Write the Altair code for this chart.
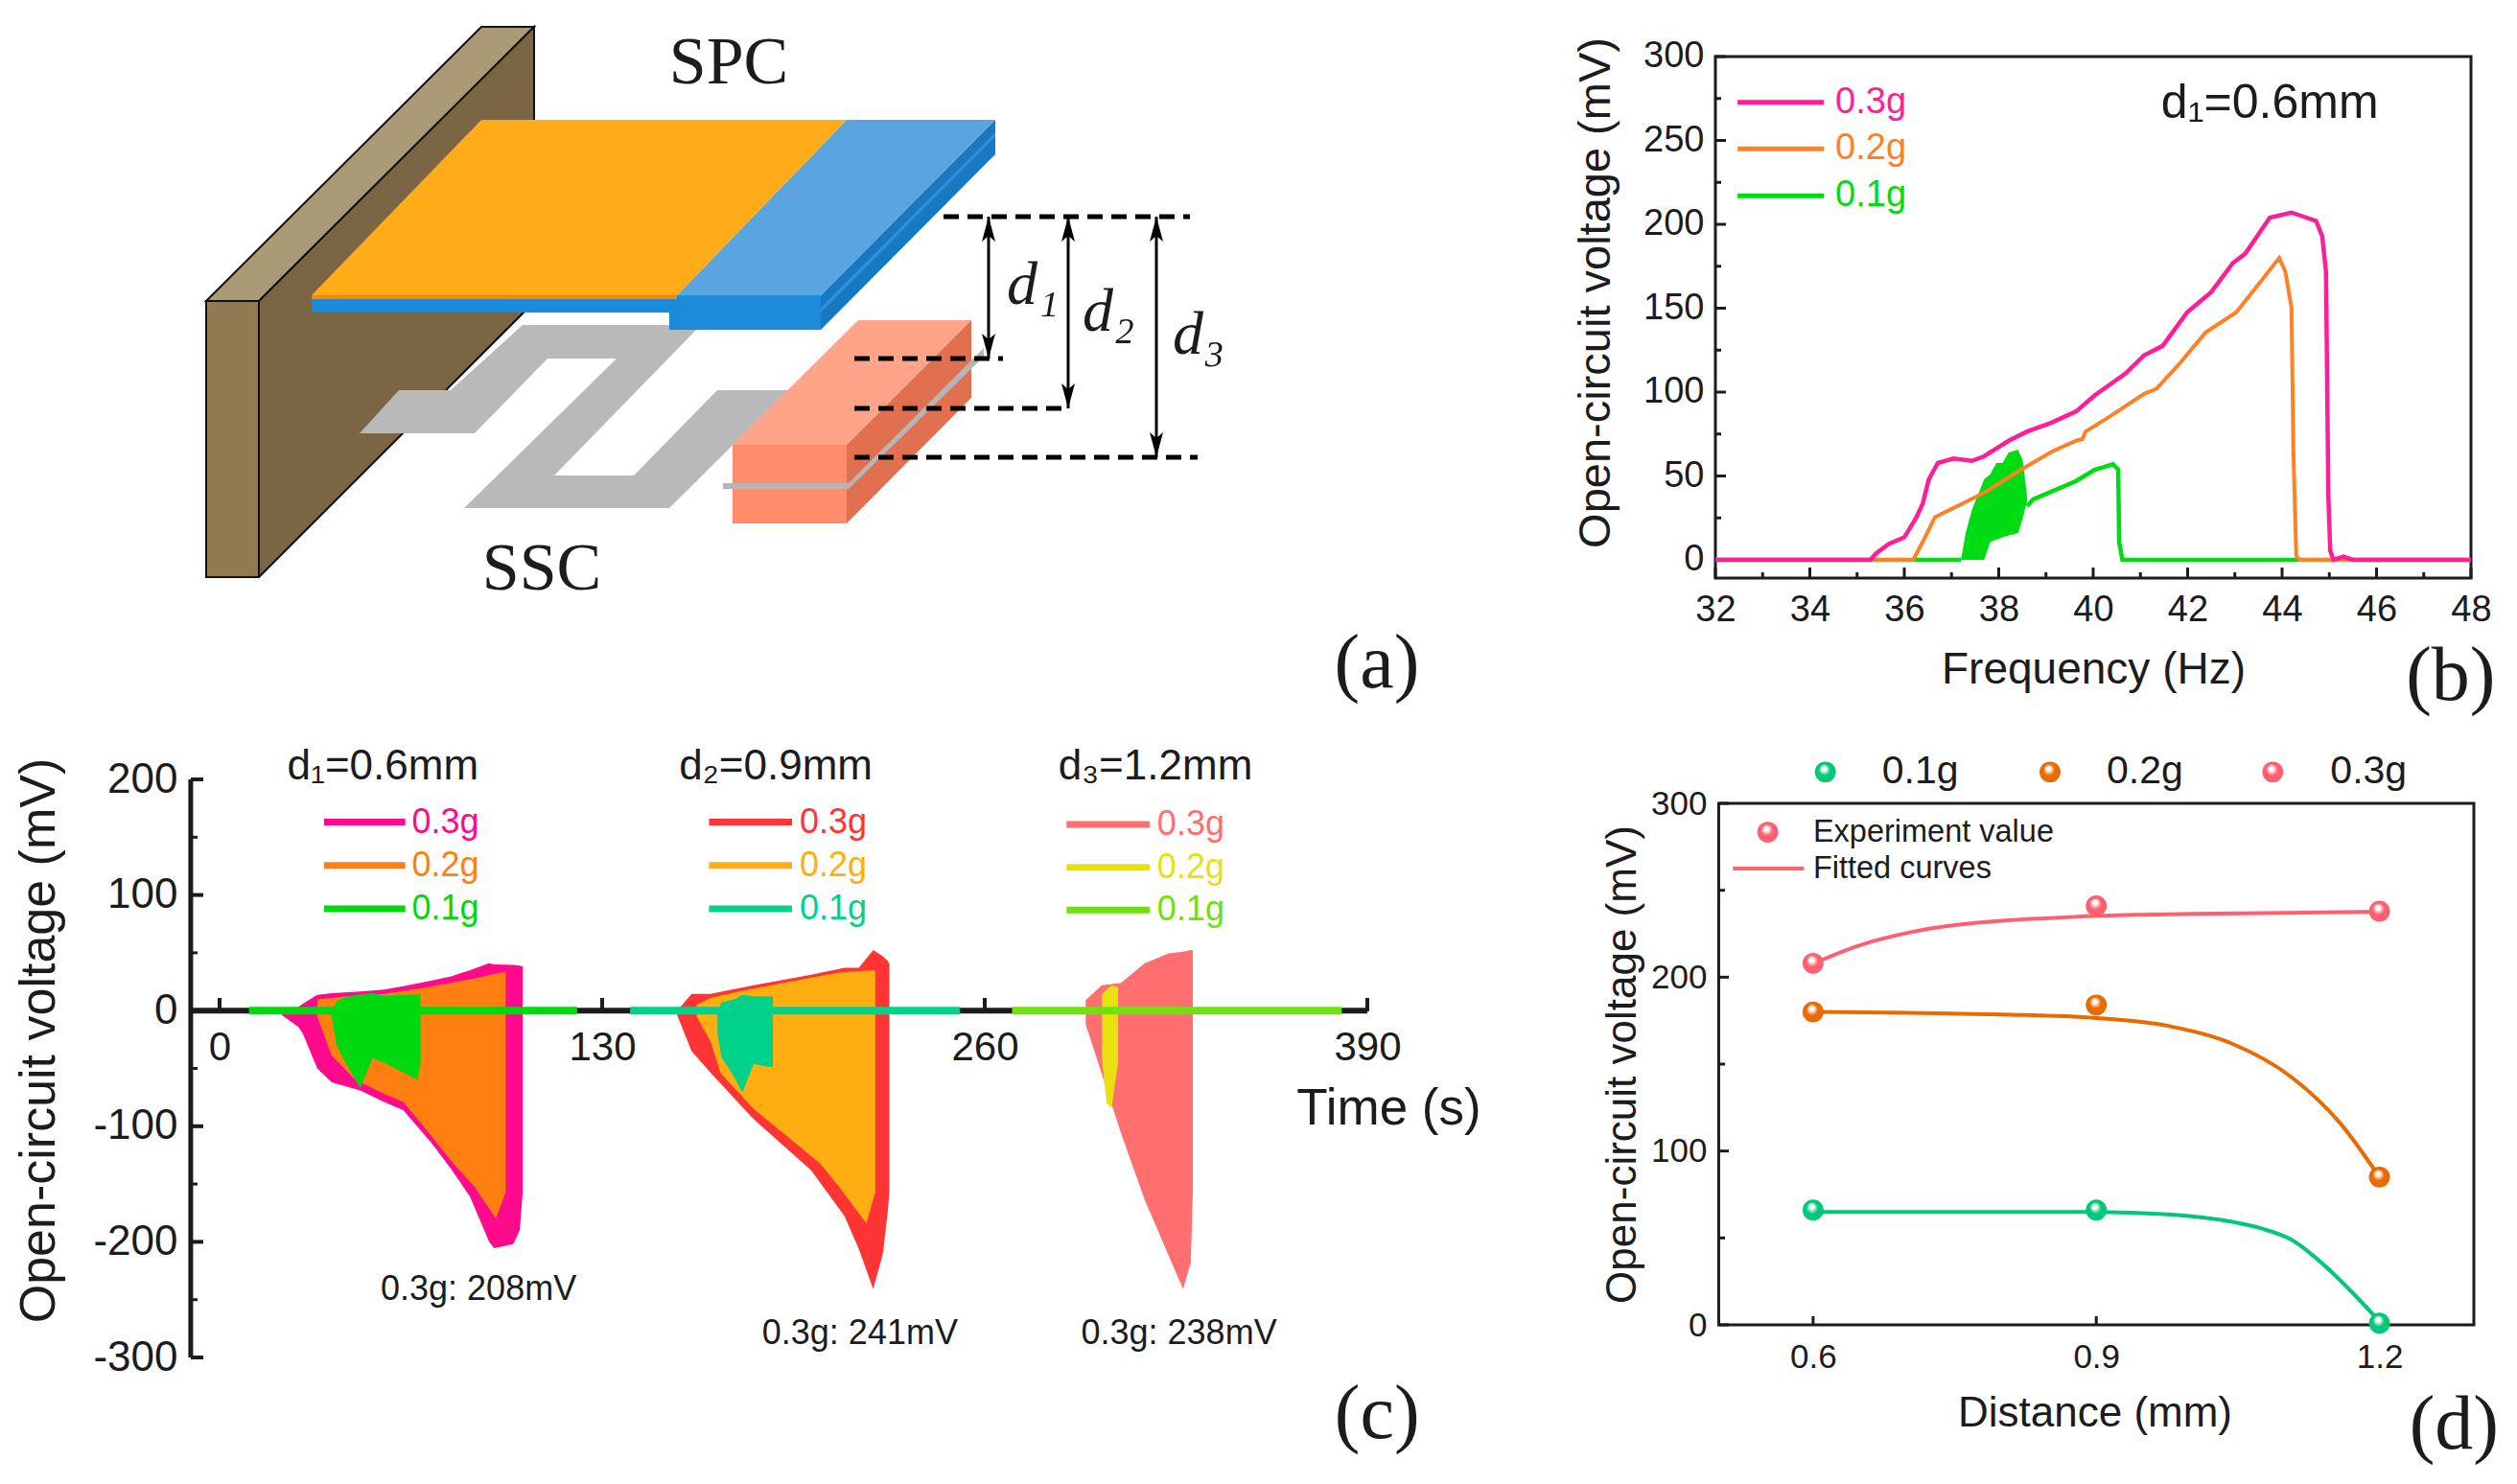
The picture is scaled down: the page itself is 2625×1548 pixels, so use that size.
import altair as alt
import pandas as pd

SANS = "Liberation Sans"
SERIF = "Liberation Serif"
INK = "#1c1c1c"

# ---------- panel (a): schematic outline vertices ----------
GRAY = "#b9b9b9"
SCHEMATIC = [
    ("#ab9a76", [(215, 314), (502, 28), (557, 28), (270, 314)]),
    ("#8f7a52", [(215, 314), (270, 314), (270, 602), (215, 602)]),
    ("#7a6545", [(270, 314), (557, 28), (557, 315), (270, 602)]),
]
PARTS = [
    (GRAY, [(375, 452), (416, 407), (470, 407), (545, 339), (731, 339), (578, 496), (661, 496), (748, 407),
            (822, 407), (698, 530), (484, 530), (643, 374), (571, 374), (495, 452)]),
    ("#1b8ad8", [(325, 308), (698, 308), (698, 326), (325, 326)]),
    ("#1b8ad8", [(698, 308), (856, 308), (856, 344), (698, 344)]),
    ("#1878c0", [(856, 308), (1038, 125), (1038, 161), (856, 344)]),
    ("#2f8fd6", [(856, 321), (1038, 138), (1038, 143), (856, 326)]),
    ("#5aa5e0", [(883, 125), (1038, 125), (856, 308), (706, 308)]),
    ("#f58a00", [(325, 308), (706, 308), (706, 312), (325, 312)]),
    ("#ffac18", [(502, 125), (883, 125), (706, 308), (325, 308)]),
    ("#ff8c6a", [(764, 464), (883, 464), (883, 546), (764, 546)]),
    ("#ffa488", [(764, 464), (895, 334), (1013, 334), (883, 464)]),
    ("#e07050", [(883, 464), (1013, 334), (1013, 415), (883, 546)]),
    ("#b5b5b5", [(754, 504), (885, 504), (1026, 363), (1026, 372), (885, 510), (754, 510)]),
    ("#000000", [(1031, 226), (1038, 252), (1031, 246), (1024, 252)]),
    ("#000000", [(1031, 374), (1038, 348), (1031, 354), (1024, 348)]),
    ("#000000", [(1114, 226), (1121, 252), (1114, 246), (1107, 252)]),
    ("#000000", [(1114, 426), (1121, 400), (1114, 406), (1107, 400)]),
    ("#000000", [(1206, 226), (1213, 252), (1206, 246), (1199, 252)]),
    ("#000000", [(1206, 477), (1213, 451), (1206, 457), (1199, 451)]),
]
DASH_Y = [226, 374, 426, 477]
DASH_X0 = [984, 891, 891, 891]
DASH_X1 = [1241, 1046, 1114, 1249]
ARROW_X = [1031, 1114, 1206]
ARROW_Y0 = [226, 226, 226]
ARROW_Y1 = [374, 426, 477]
A_TEXT = ["SPC", "SSC"]
A_TEXT_X = [760, 565]
A_TEXT_Y = [66, 594]
A_D = ["d₁", "d₂", "d₃"]
A_D_X = [1077, 1156, 1250]
A_D_Y = [298, 326, 350]

# ---------- panel (b) ----------
B_TICKS_X = [32, 34, 36, 38, 40, 42, 44, 46, 48]
B_MINOR_X = [33, 35, 37, 39, 41, 43, 45, 47]
B_TICKS_Y = [0, 50, 100, 150, 200, 250, 300]
B_MINOR_Y = [25, 75, 125, 175, 225, 275]
B_P_F = [32, 35.28, 35.41, 35.67, 36, 36.26, 36.39, 36.52, 36.71, 37.04, 37.43, 37.69, 38.21, 38.6, 39.12, 39.64,
         40.03, 40.68, 41.08, 41.47, 41.99, 42.5, 42.96, 43.22, 43.74, 44.2, 44.72, 44.85, 44.93, 44.98, 45.02,
         45.09, 45.3, 45.5, 48]
B_P_V = [0, 0, 4, 9.4, 13.4, 25.5, 33.5, 48, 57.7, 60.4, 59, 61.7, 71, 76.5, 81.8, 88.5,
         98, 111, 122, 127.5, 147.6, 159.6, 177, 182.5, 204, 207, 202, 193, 171.7, 37.6, 5.4,
         0, 1.9, 0, 0]
B_O_F = [32, 36.19, 36.39, 36.65, 37.04, 37.69, 38.47, 39.12, 39.64, 39.77, 39.84, 40.3, 41.08, 41.34, 41.86, 42.38,
         43.03, 43.55, 43.94, 44.07, 44.2, 44.24, 44.3, 44.36, 48]
B_O_V = [0, 0, 10.7, 25.5, 30.9, 40, 53.7, 64.4, 71, 72, 76.5, 84.5, 99, 102, 118, 135.5,
         147.6, 166, 180, 171.7, 150, 64, 2.7, 0, 0]
B_G_F0 = [32, 37.2]
B_G_V0 = [0, 0]
B_G_F1 = [38.6, 38.73, 39.64, 40.03, 40.42, 40.53, 40.55, 40.62, 48]
B_G_V1 = [32, 36, 47, 53.7, 57, 53.7, 10.7, 0, 0]
B_BAND_F = [37.2, 37.3, 37.43, 37.69, 37.82, 37.95, 38.08, 38.21, 38.41, 38.51, 38.6]
B_BAND_HI = [0, 16, 29.5, 48, 51, 57.7, 57.7, 64, 65.7, 59, 37.6]
B_BAND_LO = [0, 0, 0, 0, 10.7, 12, 13.4, 14.5, 16, 25, 35]
B_LEG = ["0.3g", "0.2g", "0.1g"]
B_LEG_C = ["#ff1e96", "#ff8026", "#00dc14"]
B_LEG_Y = [272.7, 245, 217]
B_LEG_F0 = 32.47
B_LEG_F1 = 34.3
B_LEG_T = 34.54

# ---------- panel (c) ----------
C_T = [0, 130, 260, 390]
C_Y = [200, 100, 0, -100, -200, -300]
C_MINOR_Y = [150, 50, -50, -150, -250]
C1_3_T = [21.2, 26.7, 28.3, 33.2, 38.1, 47.8, 55.9, 62.4, 72.2, 78.7, 85.1, 91.6, 93.3, 99.8, 102, 103]
C1_3_H = [0, 3, 6, 13.7, 15, 16.5, 18.3, 21, 26, 29.7, 35, 41, 40, 39.5, 39, 38]
C1_3_L = [-4, -14, -20, -50, -62, -69, -79, -86, -115, -137, -161, -200, -205.5, -202, -190, -157]
C1_2_T = [33.2, 38.1, 46.2, 55.9, 62.4, 72.2, 78.7, 86.8, 93.9, 97.2]
C1_2_H = [9.9, 11, 13, 14.5, 17, 21, 24, 28, 32, 33.5]
C1_2_L = [-5, -39, -60, -72, -79, -109, -130, -153, -180, -157]
C1_1_T = [38.1, 39.7, 43, 47.8, 52, 55.9, 67.3, 68.3]
C1_1_H = [0, 8, 12, 14, 15, 13, 14, 14.5]
C1_1_L = [-5, -30, -46, -67, -41, -45, -60, -45]
C2_3_T = [155.5, 160.4, 166.9, 181.5, 201, 212.4, 217.2, 222.1, 225.4, 227, 227.6]
C2_3_H = [0, 14.5, 14.5, 22, 31, 37, 37, 52.5, 47, 43, 40]
C2_3_L = [-4, -35, -54, -94, -138, -178, -206, -241, -210, -175, -157]
C2_2_T = [162.1, 166.9, 170.2, 181.5, 197.8, 204.3, 210.7, 219.8, 222.8]
C2_2_H = [5, 11, 13, 19, 27, 30, 33, 34.5, 34.6]
C2_2_L = [-5, -27, -54, -85, -119, -133, -153, -184, -157]
C2_1_T = [169.2, 170.5, 175, 177.6, 181.5, 184.8, 188]
C2_1_H = [0, 7, 10, 13.7, 12.5, 12.5, 12.5]
C2_1_L = [-20, -40, -58, -71, -46, -48, -49]
C3_3_T = [294.3, 299.8, 306.3, 314.4, 322.5, 327.4, 330, 330.7]
C3_3_H = [9, 22, 24, 41, 49.5, 51, 52.5, 52]
C3_3_L = [-12, -55, -106, -164, -212, -241, -218, -157]
C3_2_T = [299.8, 301.4, 303.1, 305.3]
C3_2_H = [14, 18, 22, 20]
C3_2_L = [-42, -80, -84.5, -45]
C_BAR_T0 = [10, 139.5, 269.3]
C_BAR_T1 = [121.5, 251.5, 381.3]
C_COLS = [["#ff0a8c", "#ff8010", "#00d80f"], ["#ff3535", "#ffae12", "#00d28c"], ["#ff6f6f", "#e8e010", "#70e010"]]
C_LEG_T0 = [35.5, 166.3, 287.8]
C_LEG_T1 = [63.1, 194.5, 316]
C_LEG_TX = [65.3, 197.1, 318.6]
C_LEG_V = [[163, 125.6, 88], [163, 125.6, 88], [161, 124, 87]]
C_HEAD = ["d₁=0.6mm", "d₂=0.9mm", "d₃=1.2mm"]
C_HEAD_T = [55.5, 189, 318]
C_HEAD_V = 210.6
C_NOTE = ["0.3g: 208mV", "0.3g: 241mV", "0.3g: 238mV"]
C_NOTE_T = [88, 217.6, 326]
C_NOTE_V = [-241, -279, -279]

# ---------- panel (d) ----------
D_X = [0.6, 0.9, 1.2]
D_Y = [0, 100, 200, 300]
D_MINOR_Y = [50, 150, 250]
D_NAMES = ["0.1g", "0.2g", "0.3g"]
D_COLS = ["#00c878", "#e86a00", "#ff6070"]
D_PTS = [[66, 66, 1], [180, 184, 85], [208, 241, 238]]
D_C1_X = [0.6, 0.9, 0.976, 1.041, 1.074, 1.107, 1.139, 1.172, 1.2]
D_C1_Y = [65, 65, 63.6, 59.6, 55.6, 48.9, 35.5, 18.2, 2]
D_C2_X = [0.6, 0.7, 0.8, 0.9, 0.976, 1.041, 1.107, 1.159, 1.2]
D_C2_Y = [180, 179.5, 178.5, 176.5, 172, 162.4, 142.4, 115.6, 85]
D_C3_X = [0.6, 0.65, 0.7, 0.75, 0.8, 0.85, 0.9, 1.0, 1.1, 1.2]
D_C3_Y = [207.8, 218.5, 225.5, 230, 232.5, 234, 235.3, 236.4, 237, 237.7]
D_LEG_X = [0.613, 0.851, 1.087]
D_LEG_TX = [0.673, 0.911, 1.148]
D_LEG_Y = 318

# ---------- page geometry ----------
A_W, A_H = 1418, 595
B_W, B_H = 788, 595
C_W, C_H = 1418, 603
D_W, D_H = 791, 569


def scales(xd, yd, xa=None, ya=None):
    x = alt.X("x:Q", scale=alt.Scale(domain=xd, nice=False, zero=False), axis=xa)
    y = alt.Y("y:Q", scale=alt.Scale(domain=yd, nice=False, zero=False), axis=ya)
    return x, y


def labels(xs, ys, texts, X, Y, size, color=INK, font=SANS, align="center", **kw):
    df = pd.DataFrame({"x": xs, "y": ys, "s": texts, "c": color if isinstance(color, list) else [color] * len(xs)})
    return alt.Chart(df).mark_text(font=font, fontSize=size, align=align, baseline="middle", **kw).encode(
        x=X, y=Y, text="s:N", color=alt.Color("c:N", scale=None))


def curve(xs, ys, X, Y, color, width, **kw):
    return alt.Chart(pd.DataFrame({"x": xs, "y": ys, "o": list(range(len(xs)))})).mark_line(
        color=color, strokeWidth=width, **kw).encode(x=X, y=Y, order="o:Q")


def band(ts, hi, lo, X, Y, color):
    return alt.Chart(pd.DataFrame({"x": ts, "y": hi, "y2": lo})).mark_area(color=color, opacity=1).encode(
        x=X, y=Y, y2="y2:Q")


def hseg(x0, x1, ys, X, Y, colors, width):
    df = pd.DataFrame({"x": x0, "x2": x1, "y": ys, "c": colors})
    return alt.Chart(df).mark_rule(strokeWidth=width).encode(
        x=X, x2="x2:Q", y=Y, color=alt.Color("c:N", scale=None))


def xticks(vals, X, bottom, length, width=3):
    return alt.Chart(pd.DataFrame({"x": vals})).mark_rule(color=INK, strokeWidth=width).encode(
        x=X, y=alt.value(bottom), y2=alt.value(bottom - length))


def yticks(vals, Y, left, length, width=3):
    return alt.Chart(pd.DataFrame({"y": vals})).mark_rule(color=INK, strokeWidth=width).encode(
        y=Y, x=alt.value(left), x2=alt.value(left + length))


def frame(x0, x1, y0, y1, X, Y):
    df = pd.DataFrame({"x": [x0], "x2": [x1], "y": [y0], "y2": [y1]})
    return alt.Chart(df).mark_rect(filled=False, stroke=INK, strokeWidth=3).encode(
        x=X, x2="x2:Q", y=Y, y2="y2:Q")


def common_axis(**kw):
    base = dict(ticks=False, domain=False, grid=False, labelFont=SANS, labelColor=INK, titleFont=SANS,
                titleColor=INK, titleFontWeight="normal", labelFlush=False, labelOverlap=False)
    base.update(kw)
    return alt.Axis(**base)


def poly(color, pts):
    ring = [list(p) for p in pts] + [list(pts[0])]
    return {"type": "Feature", "properties": {"fill": color}, "geometry": {"type": "Polygon", "coordinates": [ring]}}


PROJ = dict(type="identity", scale=1, translate=[-8, -8])


def shapes(items, **kw):
    return (alt.Chart(alt.InlineData(values=[poly(c, p) for c, p in items]))
            .mark_geoshape(**kw)
            .encode(color=alt.Color("properties.fill:N", scale=None))
            .project(**PROJ))


# ---------- (a) ----------
aX, aY = scales([8, 1426], [603, 8])
dash = hseg(DASH_X0, DASH_X1, DASH_Y, aX, aY, ["#000000"] * 4, 4)
dash = dash.mark_rule(strokeWidth=5, strokeDash=[16, 9])
arrows = alt.Chart(pd.DataFrame({"x": ARROW_X, "y": ARROW_Y0, "y2": ARROW_Y1})).mark_rule(
    color="#000000", strokeWidth=3).encode(x=aX, y=aY, y2="y2:Q")
panel_a = alt.layer(
    shapes(SCHEMATIC, stroke="#111111", strokeWidth=2),
    shapes(PARTS),
    dash,
    arrows,
    labels(A_TEXT_X, A_TEXT_Y, A_TEXT, aX, aY, 70, font=SERIF),
    labels(A_D_X, A_D_Y, A_D, aX, aY, 64, font=SERIF, fontStyle="italic"),
    labels([1436], [693], ["(a)"], aX, aY, 80, font=SERIF),
).properties(width=A_W, height=A_H)

# ---------- (b) ----------
byd = [-10.86, 329.14]
bX, bY = scales([32, 48], byd,
                common_axis(values=B_TICKS_X, labelFontSize=38, labelPadding=14, title="Frequency (Hz)",
                            titleFontSize=46, titlePadding=21),
                common_axis(values=B_TICKS_Y, labelFontSize=38, labelPadding=12,
                            title="Open-circuit voltage (mV)", titleFontSize=47, titleX=-101, titleY=297))
panel_b = alt.layer(
    xticks(B_TICKS_X, bX, B_H, 11), xticks(B_MINOR_X, bX, B_H, 6),
    yticks(B_TICKS_Y, bY, 0, 11), yticks(B_MINOR_Y, bY, 0, 6),
    frame(32, 48, byd[0], 300, bX, bY),
    curve(B_G_F0, B_G_V0, bX, bY, B_LEG_C[2], 4.5),
    curve(B_G_F1, B_G_V1, bX, bY, B_LEG_C[2], 4.5),
    band(B_BAND_F, B_BAND_HI, B_BAND_LO, bX, bY, B_LEG_C[2]),
    curve(B_O_F, B_O_V, bX, bY, B_LEG_C[1], 4),
    curve(B_P_F, B_P_V, bX, bY, B_LEG_C[0], 4.5),
    hseg([B_LEG_F0] * 3, [B_LEG_F1] * 3, B_LEG_Y, bX, bY, B_LEG_C, 5),
    labels([B_LEG_T] * 3, B_LEG_Y, B_LEG, bX, bY, 38, color=B_LEG_C, align="left"),
    labels([43.74], [272], ["d₁=0.6mm"], bX, bY, 50),
    labels([47.57], [-70], ["(b)"], bX, bY, 80, font=SERIF),
).properties(width=B_W, height=B_H)

# ---------- (c) ----------
cX, cY = scales([-72, 390], [-300, 200],
                common_axis(values=C_T, labelFontSize=42, labelPadding=17, title=None, offset=-361),
                common_axis(values=C_Y, labelFontSize=44, labelPadding=14, title="Open-circuit voltage (mV)",
                            titleFontSize=52, offset=-191, titleX=-159, titleY=272, titleBaseline="middle",
                            labelExpr="'' + datum.value"))
c_layers = [
    curve([-9.8, 390], [0, 0], cX, cY, INK, 6),
    curve([-9.8, -9.8], [-300, 200], cX, cY, INK, 5),
    xticks(C_T, cX, 242, 14, 4),
    yticks(C_Y, cY, 191, 13, 4),
    yticks(C_MINOR_Y, cY, 191, 7, 3),
    band(C1_3_T, C1_3_H, C1_3_L, cX, cY, C_COLS[0][0]),
    band(C1_2_T, C1_2_H, C1_2_L, cX, cY, C_COLS[0][1]),
    band(C1_1_T, C1_1_H, C1_1_L, cX, cY, C_COLS[0][2]),
    band(C2_3_T, C2_3_H, C2_3_L, cX, cY, C_COLS[1][0]),
    band(C2_2_T, C2_2_H, C2_2_L, cX, cY, C_COLS[1][1]),
    band(C2_1_T, C2_1_H, C2_1_L, cX, cY, C_COLS[1][2]),
    band(C3_3_T, C3_3_H, C3_3_L, cX, cY, C_COLS[2][0]),
    band(C3_2_T, C3_2_H, C3_2_L, cX, cY, C_COLS[2][1]),
    hseg(C_BAR_T0, C_BAR_T1, [0, 0, 0], cX, cY, [C_COLS[0][2], C_COLS[1][2], C_COLS[2][2]], 8),
]
for i in range(3):
    c_layers.append(hseg([C_LEG_T0[i]] * 3, [C_LEG_T1[i]] * 3, C_LEG_V[i], cX, cY, C_COLS[i], 7))
    c_layers.append(labels([C_LEG_TX[i]] * 3, C_LEG_V[i], B_LEG, cX, cY, 36, color=C_COLS[i], align="left"))
c_layers += [
    labels(C_HEAD_T, [C_HEAD_V] * 3, C_HEAD, cX, cY, 44),
    labels(C_NOTE_T, C_NOTE_V, C_NOTE, cX, cY, 36),
    labels([366], [-85], ["Time (s)"], cX, cY, 53, align="left"),
    labels([393.3], [-350], ["(c)"], cX, cY, 80, font=SERIF),
]
panel_c = alt.layer(*c_layers).properties(width=C_W, height=C_H)

# ---------- (d) ----------
dX, dY = scales([0.4965, 1.3], [0, 313.79],
                common_axis(values=D_X, labelFontSize=35, labelPadding=16, format=".1f", title="Distance (mm)",
                            titleFontSize=44, titlePadding=19),
                common_axis(values=D_Y, labelFontSize=35, labelPadding=13, title="Open-circuit voltage (mV)",
                            titleFontSize=44, offset=-4, titleX=-79, titleY=297))


def sphere(color):
    return alt.RadialGradient(
        gradient="radial", x1=0.42, y1=0.3, r1=0, x2=0.5, y2=0.5, r2=0.55,
        stops=[alt.GradientStop(color="#ffffff", offset=0), alt.GradientStop(color="#ffffff", offset=0.18),
               alt.GradientStop(color=color, offset=0.5), alt.GradientStop(color=color, offset=1)])


def dots(xs, ys, color, X, Y):
    return alt.Chart(pd.DataFrame({"x": xs, "y": ys})).mark_circle(
        size=480, opacity=1, fill=sphere(color)).encode(x=X, y=Y)


d_layers = [
    xticks(D_X, dX, D_H, 9),
    yticks(D_Y, dY, 4, 10),
    yticks(D_MINOR_Y, dY, 4, 6),
    frame(0.5, 1.3, 0, 300, dX, dY),
    curve(D_C1_X, D_C1_Y, dX, dY, D_COLS[0], 4, interpolate="monotone"),
    curve(D_C2_X, D_C2_Y, dX, dY, D_COLS[1], 4, interpolate="monotone"),
    curve(D_C3_X, D_C3_Y, dX, dY, D_COLS[2], 4, interpolate="monotone"),
]
for i in range(3):
    d_layers.append(dots(D_X, D_PTS[i], D_COLS[i], dX, dY))
    d_layers.append(dots([D_LEG_X[i]], [D_LEG_Y], D_COLS[i], dX, dY))
d_layers += [
    labels(D_LEG_TX, [D_LEG_Y] * 3, D_NAMES, dX, dY, 41, align="left"),
    dots([0.552], [283.4], D_COLS[2], dX, dY),
    hseg([0.515], [0.59], [262.5], dX, dY, [D_COLS[2]], 4),
    labels([0.6, 0.6], [283.4, 262.5], ["Experiment value", "Fitted curves"], dX, dY, 32.5, align="left"),
    labels([1.279], [-58], ["(d)"], dX, dY, 80, font=SERIF),
]
panel_d = alt.layer(*d_layers).properties(width=D_W, height=D_H)

chart = (
    alt.concat(panel_a, panel_b, panel_c, panel_d, columns=2, align="each", bounds="flush",
               spacing=alt.RowColnumber(column=363, row=210))
    .properties(padding=0, background="white")
    .configure_view(stroke=None)
)
chart.save("out.html", embed_options={"renderer": "svg", "actions": False})
